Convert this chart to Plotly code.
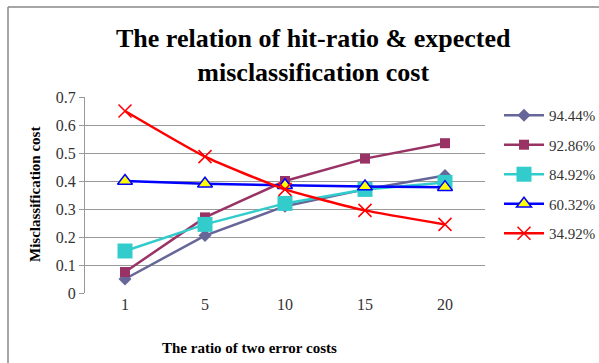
import plotly.graph_objects as go

categories = ["1", "5", "10", "15", "20"]
series_names = ["94.44%", "92.86%", "84.92%", "60.32%", "34.92%"]
s9444 = [0.05, 0.205, 0.31, 0.37, 0.42]
s9286 = [0.075, 0.27, 0.40, 0.48, 0.535]
s8492 = [0.15, 0.245, 0.32, 0.37, 0.395]
s6032 = [0.40, 0.39, 0.385, 0.38, 0.378]
s3492 = [0.65, 0.487, 0.37, 0.295, 0.245]
y_ticks = [0, 0.1, 0.2, 0.3, 0.4, 0.5, 0.6, 0.7]
y_tick_text = ["0", "0.1", "0.2", "0.3", "0.4", "0.5", "0.6", "0.7"]

styles = [
    dict(color="#666699", marker=dict(symbol="diamond", size=10, color="#666699")),
    dict(color="#993366", marker=dict(symbol="square", size=10, color="#993366")),
    dict(color="#33CCCC", marker=dict(symbol="square", size=15, color="#33CCCC")),
    dict(color="#0000FF", marker=dict(symbol="triangle-up", size=13, color="#FFFF00",
                                      line=dict(color="#0000FF", width=1.5))),
    dict(color="#FF0000", marker=dict(symbol="x-thin-open", size=13, color="#FF0000",
                                      line=dict(color="#FF0000", width=1.5))),
]
shapes_line = ["linear", "linear", "linear", "linear", "spline"]

fig = go.Figure()
for name, vals, st, sh in zip(series_names, [s9444, s9286, s8492, s6032, s3492], styles, shapes_line):
    fig.add_trace(go.Scatter(
        x=categories, y=vals, name=name, mode="lines+markers",
        line=dict(color=st["color"], width=2.5, shape=sh, smoothing=0.5),
        marker=st["marker"], legendgroup=name,
    ))

serif = "Liberation Serif, Times New Roman, serif"
fig.update_layout(
    width=599, height=363,
    margin=dict(l=85, r=114, t=97, b=70, autoexpand=False),
    paper_bgcolor="white", plot_bgcolor="white",
    font=dict(family=serif, size=16, color="#333333"),
    showlegend=True,
    legend=dict(x=1.035, xanchor="left", y=0.99, yanchor="top",
                font=dict(family=serif, size=15, color="#333333"),
                tracegroupgap=7, bgcolor="rgba(0,0,0,0)", itemwidth=40),
    xaxis=dict(type="category", range=[-0.5, 4.5], showgrid=False, showline=False,
               ticks="", tickfont=dict(size=16, color="#333333"), zeroline=False),
    yaxis=dict(range=[0, 0.7], tickvals=y_ticks, ticktext=y_tick_text, showgrid=True,
               gridcolor="#999999", gridwidth=1, showline=True, linecolor="#999999",
               linewidth=1, ticks="outside", ticklen=5, tickcolor="#999999",
               tickfont=dict(size=16, color="#333333"), zeroline=False),
    shapes=[
        dict(type="line", xref="paper", yref="paper", x0=-0.1925, x1=-0.1925, y0=-0.4, y1=1.459,
             line=dict(color="#888888", width=1.5), layer="above"),
        dict(type="line", xref="paper", yref="paper", x0=-0.1925, x1=1.3, y0=1.459, y1=1.459,
             line=dict(color="#888888", width=1.5), layer="above"),
    ],
    annotations=[
        dict(text="<b>The relation of hit-ratio & expected<br>misclassification cost</b>",
             xref="paper", yref="paper", x=0.57, y=1.214, xanchor="center", yanchor="middle",
             showarrow=False, font=dict(family=serif, size=26, color="black")),
        dict(text="<b>The ratio of two error costs</b>", xref="paper", yref="paper",
             x=0.41, y=-0.28, xanchor="center", yanchor="middle", showarrow=False,
             font=dict(family=serif, size=15, color="black")),
        dict(text="<b>Misclassification cost</b>", xref="paper", yref="paper",
             x=-0.125, y=0.5, xanchor="center", yanchor="middle", showarrow=False, textangle=-90,
             font=dict(family=serif, size=15, color="black")),
    ],
)

fig.write_html("out.html", config={"displayModeBar": False},
               post_script="document.body.style.margin='0';")
